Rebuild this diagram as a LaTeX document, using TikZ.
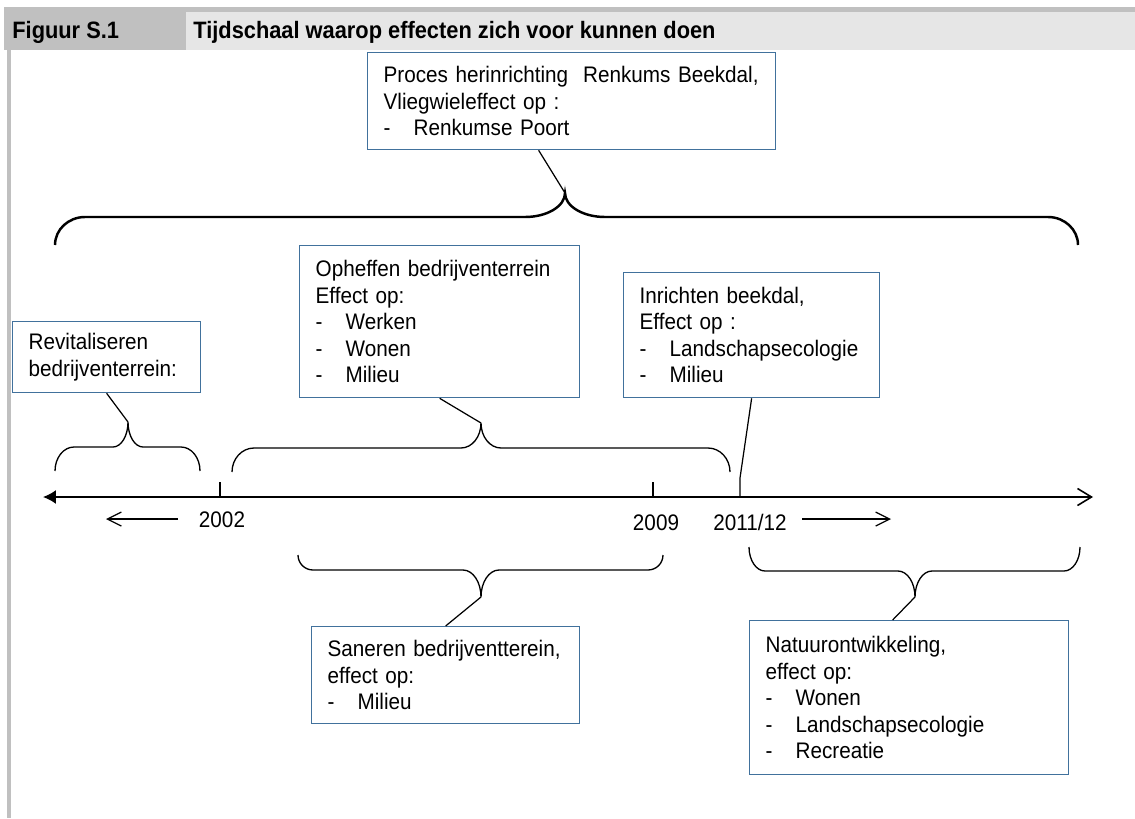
\documentclass[tikz,border=0pt]{standalone}
\usepackage{fontspec}
\setmainfont[FakeStretch=0.92]{Liberation Sans}
\usepackage{tikz}
\usetikzlibrary{arrows.meta}

\definecolor{boxblue}{RGB}{65,113,156}
\definecolor{headdark}{RGB}{192,192,192}
\definecolor{headlight}{RGB}{230,230,230}

\newcommand{\itm}[1]{\makebox[0.6cm][l]{-}#1}
% name, x1, x2, xm, yend, yh, ytip, r, r2
\newcommand{\tbrace}[9]{%
  \draw[brace] (#2,#5) .. controls (#2,#5+0.552*#6-0.552*#5) and (#2+0.448*#8,#6) .. (#2+#8,#6)
    -- (#4-#9,#6) .. controls (#4-0.448*#9,#6) and (#4,#7+0.552*#6-0.552*#7) .. (#4,#7) coordinate (#1)
    .. controls (#4,#7+0.552*#6-0.552*#7) and (#4+0.448*#9,#6) .. (#4+#9,#6)
    -- (#3-#8,#6) .. controls (#3-0.448*#8,#6) and (#3,#5+0.552*#6-0.552*#5) .. (#3,#5);}

\begin{document}
\begin{tikzpicture}[x=0.02cm, y=-0.02cm]
    % styles
    \tikzstyle{box} = [rectangle, draw=boxblue, line width=0.75pt, fill=white, anchor=north west, align=left, inner xsep=0.32cm, inner ysep=0pt, font=\fontsize{12.8}{15.1}\selectfont]
    \tikzstyle{line} = [draw, line width=0.7pt]
    \tikzstyle{brace} = [draw, line width=0.75pt]
    \tikzstyle{year} = [anchor=base, inner sep=0pt, font=\fontsize{12.8}{15.1}\selectfont]
    \tikzstyle{head} = [anchor=base west, inner sep=0pt, font=\bfseries\fontsize{13.5}{15}\selectfont]
    \tikzstyle{timearrow} = [draw, line width=0.7pt, -{Straight Barb[length=0.28cm, width=0.28cm]}]

    \useasboundingbox (0,0) rectangle (1135,818);

    % header
    \fill[headdark] (4,7) rectangle (1135,50);
    \fill[headlight] (186,12) rectangle (1135,50);
    \fill[headdark] (7,50) rectangle (11,818);
    \node[head] (fig) at (12,38) {Figuur S.1};
    \node[head] (title) at (193,38) {Tijdschaal waarop effecten zich voor kunnen doen};

    % boxes
    \node[box, text width=7.52cm, minimum height=1.94cm] (proces) at (367,52)
        {Proces herinrichting~ Renkums Beekdal,\\ Vliegwieleffect op :\\ \itm{Renkumse Poort}};
    \node[box, text width=3.12cm, minimum height=1.42cm] (revit) at (12,321)
        {Revitaliseren\\ bedrijventerrein:};
    \node[box, text width=4.96cm, minimum height=3.04cm] (ophef) at (299,245)
        {Opheffen bedrijventerrein\\ Effect op:\\ \itm{Werken}\\ \itm{Wonen}\\ \itm{Milieu}};
    \node[box, text width=4.48cm, minimum height=2.5cm] (inricht) at (623,272)
        {Inrichten beekdal,\\ Effect op :\\ \itm{Landschapsecologie}\\ \itm{Milieu}};
    \node[box, text width=4.72cm, minimum height=1.94cm] (saneer) at (311,626)
        {Saneren bedrijventterein,\\ effect op:\\ \itm{Milieu}};
    \node[box, text width=5.74cm, minimum height=3.08cm] (natuur) at (749,620)
        {Natuurontwikkeling,\\ effect op:\\ \itm{Wonen}\\ \itm{Landschapsecologie}\\ \itm{Recreatie}};

    % braces
    \begin{scope}[brace/.style={draw, line width=1.4pt}]
        \tbrace{tipA}{55}{1078}{565}{245}{217}{193}{30}{40}
    \end{scope}
    \tbrace{tipB}{55}{200}{128}{471}{447}{422}{19}{15}
    \tbrace{tipC}{232}{730}{481}{472}{448}{423}{22}{20}
    \tbrace{tipD}{298}{663}{481}{555}{570}{597}{15}{18}
    \tbrace{tipE}{749}{1080}{915}{547}{571}{597}{16}{17}

    % timeline
    \coordinate (tl-l) at (43,497);
    \coordinate (tl-r) at (1093,497);
    \draw[line width=0.9pt, {Latex[length=0.26cm, width=0.28cm]}-{Straight Barb[length=0.28cm, width=0.34cm]}] (tl-l) -- (tl-r);
    \coordinate (t2002) at (220,497);
    \coordinate (t2009) at (653,497);
    \coordinate (t2011) at (740,497);
    \draw[line] (t2002) -- ++(0,-15);
    \draw[line] (t2009) -- ++(0,-15);
    \node[year] (y2002) at (222,527) {2002};
    \node[year] (y2009) at (656,530) {2009};
    \node[year] (y2011) at (750,530) {2011/12};
    \coordinate (past-a) at (178,519);
    \coordinate (past-b) at (106,519);
    \coordinate (fut-a) at (802,519);
    \coordinate (fut-b) at (891,519);
    \draw[timearrow] (past-a) -- (past-b);
    \draw[timearrow] (fut-a) -- (fut-b);

    % connectors
    \path[line] ([xshift=-0.66cm]proces.south) -- (tipA);
    \path[line] (revit.south) -- (tipB);
    \path[line] (ophef.south) -- (tipC);
    \path[line] (inricht.south) -- (740,478) -- (t2011);
    \path[line] (tipD) -- (saneer.north);
    \path[line] (tipE) -- ([xshift=-0.33cm]natuur.north);
\end{tikzpicture}
\end{document}
